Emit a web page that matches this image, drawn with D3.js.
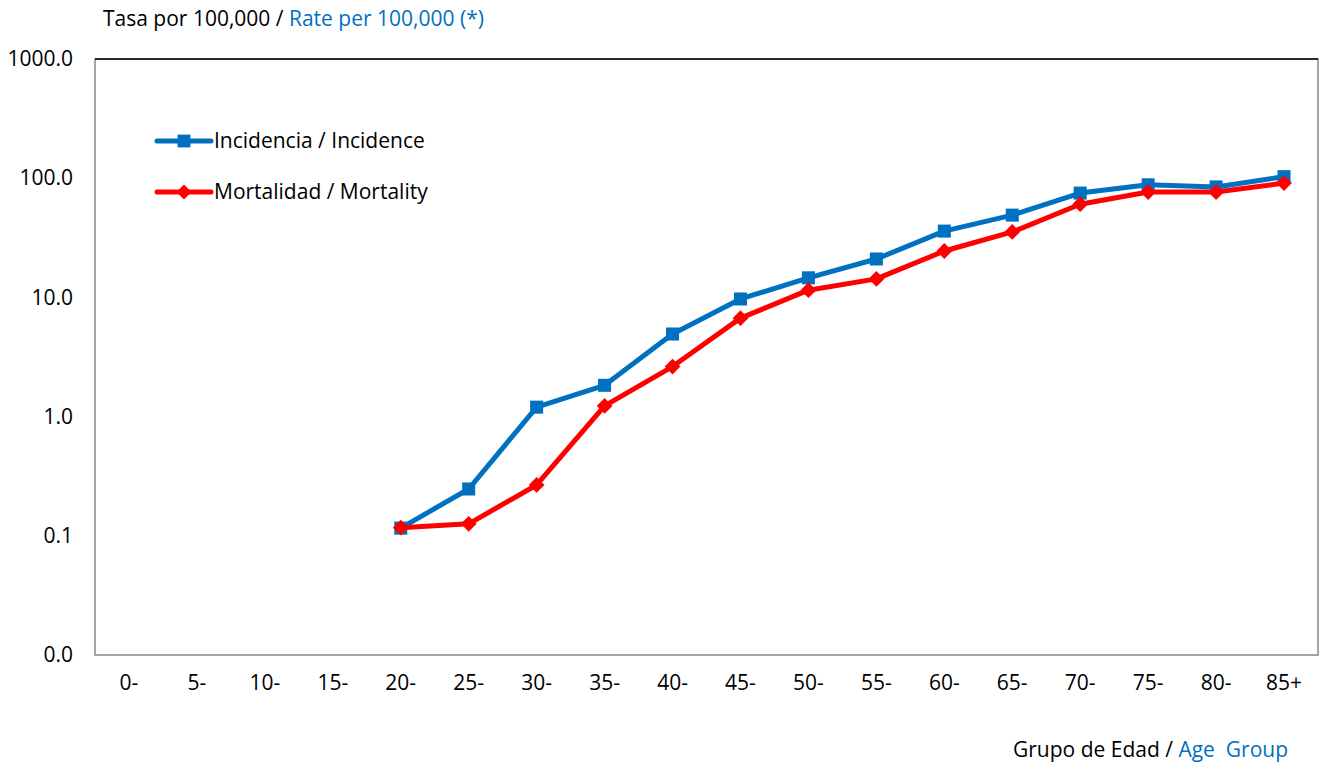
<!DOCTYPE html>
<html><head><meta charset="utf-8">
<script src="https://cdn.jsdelivr.net/npm/d3@7"></script>
<style>body{margin:0;background:#fff}svg{display:block}text{font-family:"Open Sans","Liberation Sans",sans-serif;white-space:pre}</style>
</head><body><svg id="c" width="1320" height="767"></svg>
<script>
const categories = ["0-","5-","10-","15-","20-","25-","30-","35-","40-","45-","50-","55-","60-","65-","70-","75-","80-","85+"];
const incidence = [null,null,null,null,0.116,0.247,1.2,1.83,4.93,9.7,14.6,21.0,36.0,49.0,75.0,88.0,84.5,103.0];
const mortality = [null,null,null,null,0.117,0.126,0.267,1.23,2.63,6.7,11.5,14.3,24.5,35.4,60.5,76.5,76.5,91.0];
const yTicks = [0.01,0.1,1,10,100,1000];
const seriesNames = ["Incidencia / Incidence","Mortalidad / Mortality"];

const svg = d3.select("#c");
const L=95,R=1318,T=59,B=655;
const FS = 21;
const x = d3.scaleBand().domain(categories).range([L,R]);
const y = d3.scaleLog().domain([0.01,1000]).range([B,T]);
const fmt = d3.format(".1f");

// frame
svg.append("rect").attr("x",L).attr("y",T).attr("width",R-L).attr("height",B-T)
  .attr("fill","none").attr("stroke","#888").attr("stroke-width",1.5);
svg.append("line").attr("x1",L).attr("x2",R).attr("y1",T).attr("y2",T).attr("stroke","#000").attr("stroke-width",1.5);

// y axis
const ya = svg.append("g").attr("transform",`translate(${L},0)`)
  .call(d3.axisLeft(y).tickValues(yTicks).tickFormat(fmt).tickSize(0).tickPadding(22));
ya.select(".domain").remove();
ya.selectAll("text").attr("font-size",FS).attr("fill","#000").style("font-family","'Open Sans','Liberation Sans',sans-serif");

// x axis
const xa = svg.append("g").attr("transform",`translate(0,${B})`)
  .call(d3.axisBottom(x).tickSize(0).tickPadding(20));
xa.select(".domain").remove();
xa.selectAll("text").attr("font-size",FS).attr("fill","#000").style("font-family","'Open Sans','Liberation Sans',sans-serif");

const cx = d => x(d) + x.bandwidth()/2;
const line = d3.line().defined(d=>d[1]!=null).x(d=>cx(d[0])).y(d=>y(d[1]));

function drawSeries(vals,color,diamond){
  const pts = categories.map((c,i)=>[c,vals[i]]);
  svg.append("path").datum(pts).attr("d",line).attr("fill","none").attr("stroke",color)
    .attr("stroke-width",5).attr("stroke-linejoin","round").attr("stroke-linecap","round");
  const sym = d3.symbol().type(d3.symbolSquare).size(diamond?125:170);
  svg.append("g").selectAll("path").data(pts.filter(p=>p[1]!=null)).join("path")
    .attr("d",sym).attr("fill",color)
    .attr("transform",p=>`translate(${cx(p[0])},${y(p[1])})${diamond?" rotate(45)":""}`);
}
drawSeries(incidence,"#0070C0",false);
drawSeries(mortality,"#FF0000",true);

// legend
const leg = [[seriesNames[0],"#0070C0",false,141],[seriesNames[1],"#FF0000",true,192]];
leg.forEach(([name,color,diamond,ly])=>{
  svg.append("line").attr("x1",157).attr("x2",211).attr("y1",ly).attr("y2",ly)
    .attr("stroke",color).attr("stroke-width",5).attr("stroke-linecap","round");
  svg.append("path").attr("d",d3.symbol().type(d3.symbolSquare).size(diamond?110:165)())
    .attr("fill",color).attr("transform",`translate(184,${ly})${diamond?" rotate(45)":""}`);
  svg.append("text").attr("x",214).attr("y",ly).attr("dy","0.35em").attr("font-size",FS).text(name);
});

// titles
const t1 = svg.append("text").attr("x",103).attr("y",26).attr("font-size",FS);
t1.append("tspan").attr("fill","#000").text("Tasa por 100,000 / ");
t1.append("tspan").attr("fill","#0070C0").text("Rate per 100,000 (*)");

const t2 = svg.append("text").attr("x",1288).attr("y",757).attr("text-anchor","end").attr("font-size",FS);
t2.append("tspan").attr("fill","#000").text("Grupo de Edad / ");
t2.append("tspan").attr("fill","#0070C0").text("Age  Group");
</script></body></html>
